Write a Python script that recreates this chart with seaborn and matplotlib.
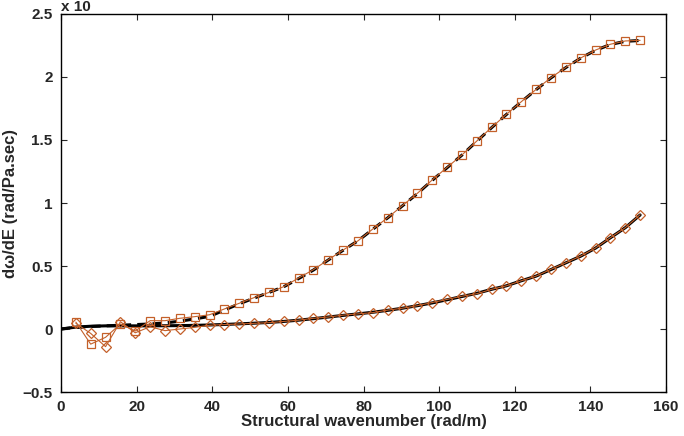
import numpy as np
import pandas as pd
import matplotlib
matplotlib.use("Agg")
import matplotlib.pyplot as plt
import seaborn as sns

# wavenumbers of the computed points (rad/m)
k_pts = [3.93, 7.85, 11.78, 15.71, 19.63, 23.56, 27.49, 31.42, 35.34, 39.27,
         43.20, 47.12, 51.05, 54.98, 58.90, 62.83, 66.76, 70.69, 74.61, 78.54,
         82.47, 86.39, 90.32, 94.25, 98.17, 102.10, 106.03, 109.96, 113.88, 117.81,
         121.74, 125.66, 129.59, 133.52, 137.44, 141.37, 145.30, 149.23, 153.15]

# computed sensitivities (x 10^n)
sq_vals = [0.055, -0.12, -0.066, 0.04, -0.016, 0.066, 0.066, 0.085, 0.098, 0.113,
           0.159, 0.204, 0.249, 0.290, 0.336, 0.405, 0.471, 0.550, 0.627, 0.700,
           0.794, 0.883, 0.980, 1.077, 1.183, 1.283, 1.381, 1.492, 1.600, 1.704,
           1.804, 1.902, 1.995, 2.077, 2.151, 2.214, 2.260, 2.286, 2.291]
di_vals = [0.045, -0.035, -0.14, 0.058, -0.03, 0.018, -0.013, 0.0, 0.013, 0.03,
           0.035, 0.04, 0.045, 0.05, 0.06, 0.07, 0.085, 0.095, 0.11, 0.12,
           0.13, 0.15, 0.165, 0.185, 0.21, 0.235, 0.26, 0.28, 0.315, 0.343,
           0.383, 0.42, 0.474, 0.526, 0.579, 0.643, 0.725, 0.804, 0.907]

# analytic curves, sampled at 0 and the same wavenumbers
k_line = [0.0] + k_pts
dash_vals = [0.0, 0.012, 0.02, 0.025, 0.03, 0.035, 0.04, 0.048, 0.062, 0.08,
             0.10, 0.15, 0.20, 0.245, 0.29, 0.335, 0.40, 0.468, 0.548, 0.625,
             0.700, 0.792, 0.882, 0.978, 1.075, 1.180, 1.280, 1.380, 1.490, 1.598,
             1.703, 1.803, 1.900, 1.993, 2.075, 2.150, 2.212, 2.258, 2.283, 2.290]
solid_vals = [0.0, 0.015, 0.022, 0.025, 0.025, 0.025, 0.025, 0.026, 0.027, 0.029,
              0.032, 0.036, 0.041, 0.046, 0.052, 0.06, 0.07, 0.082, 0.095, 0.108,
              0.12, 0.133, 0.148, 0.165, 0.185, 0.207, 0.232, 0.258, 0.283, 0.315,
              0.343, 0.383, 0.42, 0.472, 0.525, 0.578, 0.642, 0.724, 0.804, 0.905]

x_ticks = [0, 20, 40, 60, 80, 100, 120, 140, 160]
y_ticks = [-0.5, 0, 0.5, 1, 1.5, 2, 2.5]
y_labels = ["\u22120.5", "0", "0.5", "1", "1.5", "2", "2.5"]

ORANGE = "#c4602a"

sns.set_style("ticks")
plt.rcParams["font.family"] = ["Liberation Sans", "DejaVu Sans"]
plt.rcParams["font.weight"] = "bold"

fig = plt.figure(figsize=(6.84, 4.36), dpi=100)
ax = fig.add_axes([0.0892, 0.1009, 0.8845, 0.8670])

lines = pd.DataFrame({"k": k_line, "dash": dash_vals, "solid": solid_vals})
pts = pd.DataFrame({"k": k_pts, "sq": sq_vals, "di": di_vals})

sns.lineplot(data=lines, x="k", y="solid", ax=ax, color="black", lw=2.2, zorder=2)
sns.lineplot(data=lines, x="k", y="dash", ax=ax, color="black", lw=2.2,
             linestyle=(0, (3, 2)), zorder=2)
sns.lineplot(data=pts, x="k", y="sq", ax=ax, color=ORANGE, lw=0.8, marker="s",
             markersize=6, markerfacecolor="none", markeredgecolor=ORANGE,
             markeredgewidth=0.9, zorder=3)
sns.lineplot(data=pts, x="k", y="di", ax=ax, color=ORANGE, lw=0.8, marker="D",
             markersize=5.5, markerfacecolor="none", markeredgecolor=ORANGE,
             markeredgewidth=0.9, zorder=3)

ax.set_xlim(0, 160)
ax.set_ylim(-0.5, 2.5)
ax.set_xticks(x_ticks, labels=[str(t) for t in x_ticks], fontsize=11, fontweight="bold")
ax.set_yticks(y_ticks, labels=y_labels, fontsize=11, fontweight="bold")
ax.tick_params(direction="in", length=4, width=0.8, top=True, right=True, pad=6)
for s in ax.spines.values():
    s.set_linewidth(1.0)
    s.set_color("black")

ax.set_xlabel("Structural wavenumber (rad/m)", fontsize=12, fontweight="bold", labelpad=0)
ax.set_ylabel("d\u03c9/dE (rad/Pa.sec)", fontsize=12, fontweight="bold", labelpad=3)
fig.text(0.0892, 0.999, "x 10", fontsize=11, fontweight="bold", ha="left", va="top")

fig.savefig("out.png", dpi=100)
